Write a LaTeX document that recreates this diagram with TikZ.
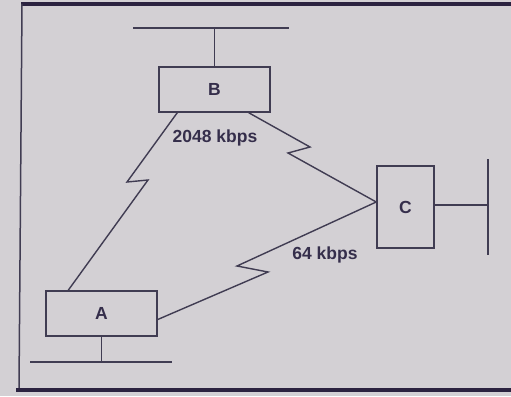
\documentclass[tikz,border=0pt]{standalone}
\usepackage{xcolor}
\usepackage{fontspec}
\usepackage{tikz}
\newfontfamily\diagfont{Liberation Sans}
\tikzset{every picture/.append style={font=\diagfont\bfseries\fontsize{17.5}{17.5}\selectfont}}
\definecolor{figpaper}{HTML}{D3D0D4}
\definecolor{figline}{HTML}{403C52}
\definecolor{figink}{HTML}{352E4B}
\definecolor{figrule}{HTML}{2B2240}
\tikzset{
  site/.style={draw=figline,line width=1.5pt,inner sep=0pt,text=figink},
  link/.style={draw=figline,line width=1.4pt,line join=miter},
  rate/.style={text=figink,inner sep=0pt}
}

\begin{document}
\begin{tikzpicture}[x=1pt,y=-1pt]
    \fill[figpaper] (0,0) rectangle (511,396);
    \useasboundingbox (0,0) rectangle (511,396);
    % page frame
    \draw[figrule,line width=3.5pt] (21,4) -- (511,4);
    \draw[figline,line width=1.5pt] (22,4) -- (19,388);
    \draw[figrule,line width=4.5pt] (16,390) -- (511,390);
    % sites
    \node[site,minimum width=111pt,minimum height=45pt] (B) at (214.5,89.5) {B};
    \node[site,minimum width=111pt,minimum height=45pt] (A) at (101.5,313.5) {A};
    \node[site,minimum width=57pt,minimum height=82pt] (C) at (405.5,207) {C};
    % local buses
    \coordinate (busB) at (214.5,28);
    \coordinate (busBl) at (133,28);
    \coordinate (busBr) at (289,28);
    \coordinate (busA) at (101.5,362);
    \coordinate (busAl) at (30,362);
    \coordinate (busAr) at (172,362);
    \coordinate (busC) at (488,205);
    \coordinate (busCt) at (488,159);
    \coordinate (busCb) at (488,255);
    \draw[link] (B.north) -- (busB);
    \draw[link] (busBl) -- (busBr);
    \draw[link] (A.south) -- (busA);
    \draw[link] (busAl) -- (busAr);
    \draw[link] (C.east |- busC) -- (busC);
    \draw[link] (busCt) -- (busCb);
    % zigzag bends
    \coordinate (ba1) at (127,182);
    \coordinate (ba2) at (148,180);
    \coordinate (bc1) at (310,147);
    \coordinate (bc2) at (288,153);
    \coordinate (ca1) at (237,266);
    \coordinate (ca2) at (268,272);
    % wide area links
    \draw[link] ([xshift=19pt]B.south west) -- (ba1) -- (ba2) -- ([xshift=23pt]A.north west);
    \draw[link] ([xshift=-22pt]B.south east) -- (bc1) -- (bc2) -- ([yshift=5pt]C.west);
    \draw[link] ([yshift=5pt]C.west) -- (ca1) -- (ca2) -- ([yshift=-6pt]A.east);
    \node[rate] (r1) at (215,138) {2048 kbps};
    \node[rate] (r2) at (325,255) {64 kbps};
  \end{tikzpicture}
\end{document}
